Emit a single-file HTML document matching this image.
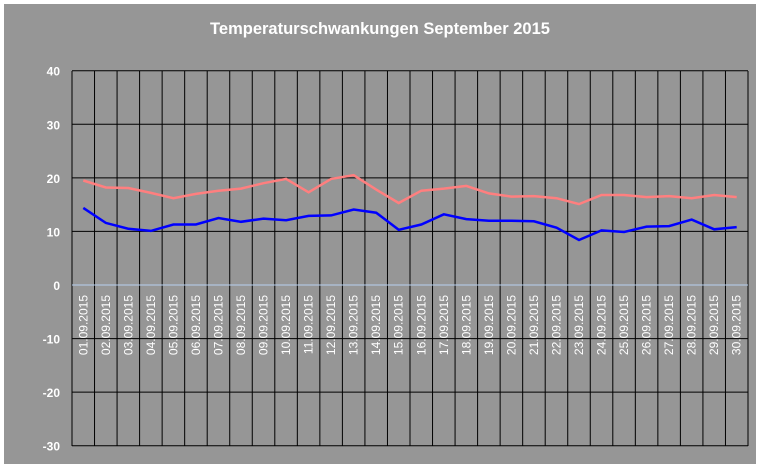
<!DOCTYPE html>
<html><head><meta charset="utf-8"><style>
html,body{margin:0;padding:0;background:#fff;width:760px;height:468px;overflow:hidden}
</style></head><body>
<svg id="s" width="760" height="468" xmlns="http://www.w3.org/2000/svg" font-family="Liberation Sans, sans-serif">
<rect x="4" y="4" width="752" height="460" fill="#969696"/>
<text x="380" y="34" text-anchor="middle" font-size="16.5" font-weight="bold" fill="#fff">Temperaturschwankungen September 2015</text>
<g id="g"></g>
</svg>
<script>
var g=document.getElementById('g'),h='';
var L=72,R=748,T=71,B=446,cw=(R-L)/30;
function y(v){return 285-v*5.357;}
for(var v=-30;v<=40;v+=10){var yy=y(v);
 if(v!=0)h+='<line x1="'+L+'" x2="'+R+'" y1="'+yy+'" y2="'+yy+'" stroke="#000" stroke-width="1"/>';
 h+='<text x="60" y="'+(yy+5)+'" text-anchor="end" font-size="12" font-weight="bold" fill="#fff">'+v+'</text>';}
for(var i=0;i<=30;i++){var xx=L+cw*i;h+='<line x1="'+xx+'" x2="'+xx+'" y1="'+T+'" y2="'+B+'" stroke="#000" stroke-width="1"/>';}
h+='<line x1="'+L+'" x2="'+R+'" y1="285" y2="285" stroke="#b8d0f0" stroke-width="1"/>';
for(var i=0;i<30;i++){var cx=L+cw*(i+0.5)+4;var d=(i<9?'0':'')+(i+1)+'.09.2015';
 h+='<text transform="translate('+cx+',295) rotate(-90)" text-anchor="end" font-size="12" fill="#fff">'+d+'</text>';}
var r=[19.5,18.2,18.1,17.2,16.2,17,17.6,18,19,19.8,17.3,19.8,20.5,17.8,15.3,17.6,18,18.5,17.1,16.5,16.6,16.2,15.1,16.8,16.8,16.4,16.6,16.2,16.8,16.4];
var b=[14.4,11.6,10.5,10.1,11.3,11.3,12.5,11.8,12.4,12.1,12.9,13,14.1,13.5,10.3,11.3,13.2,12.3,12,12,11.9,10.7,8.4,10.2,9.9,10.9,11,12.2,10.4,10.8];
function pl(a,c){var p=a.map(function(v,i){return (L+cw*(i+0.5)).toFixed(1)+','+y(v).toFixed(1)}).join(' ');
 return '<polyline points="'+p+'" fill="none" stroke="'+c+'" stroke-width="2.5"/>';}
h+=pl(r,'#ff7f7f')+pl(b,'#0000ff');
g.innerHTML=h;
</script>
</body></html>
